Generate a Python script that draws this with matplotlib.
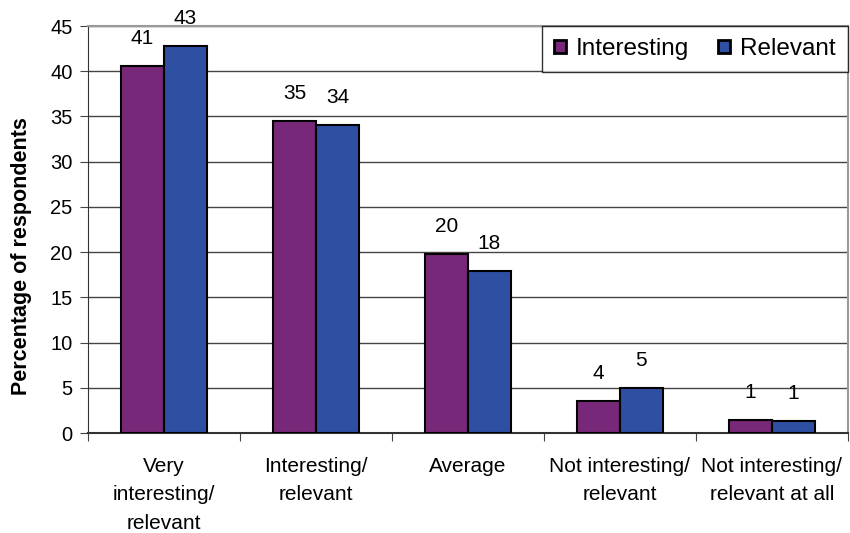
import matplotlib.pyplot as plt
import numpy as np

plt.rcParams['font.family'] = ['Liberation Sans', 'DejaVu Sans']

categories = ['Very\ninteresting/\nrelevant', 'Interesting/\nrelevant', 'Average',
              'Not interesting/\nrelevant', 'Not interesting/\nrelevant at all']
interesting = [40.6, 34.5, 19.8, 3.5, 1.4]
relevant = [42.8, 34.0, 17.9, 5.0, 1.3]
series_names = ['Interesting', 'Relevant']

purple = '#782878'
blue = '#2f50a2'

fig = plt.figure(figsize=(8.5, 5.33), dpi=100)
ax = fig.add_axes([0.1035, 0.1876, 0.894, 0.7636])

x = np.arange(len(categories))
w = 0.283
b1 = ax.bar(x - w / 2, interesting, width=w, color=purple, edgecolor='black',
            linewidth=1.5, zorder=3, label=series_names[0])
b2 = ax.bar(x + w / 2, relevant, width=w, color=blue, edgecolor='black',
            linewidth=1.5, zorder=3, label=series_names[1])
for bars in (b1, b2):
    ax.bar_label(bars, labels=[str(int(b.get_height() + 0.5)) for b in bars],
                 padding=13, fontsize=15)

ax.set_xlim(-0.5, len(categories) - 0.5)
ax.set_ylim(0, 45)
ax.set_yticks(range(0, 46, 5))
ax.yaxis.grid(True, color='#444444', linewidth=1, zorder=0)
ax.tick_params(axis='y', labelsize=14.5, direction='out', length=6, pad=5, color='#444444')

# category ticks between groups, labels centred under groups
ax.set_xticks(np.arange(-0.5, len(categories), 1.0))
ax.set_xticklabels([])
ax.set_xticks(x, minor=True)
ax.set_xticklabels(categories, minor=True, fontsize=15, linespacing=1.65)
ax.tick_params(axis='x', which='major', direction='out', length=6, color='#444444')
ax.tick_params(axis='x', which='minor', length=0, pad=17)

for s in ('top', 'right'):
    ax.spines[s].set_color('#999999')
    ax.spines[s].set_linewidth(1.5)
ax.spines['left'].set_color('#333333')
ax.spines['bottom'].set_color('#333333')
ax.spines['bottom'].set_linewidth(1.5)

ax.set_ylabel('Percentage of respondents', fontsize=15.5, fontweight='bold')
ax.yaxis.set_label_coords(-0.074, 0.435)

leg = ax.legend(loc='upper right', ncol=2, fontsize=17.5, frameon=True, fancybox=False,
                edgecolor='black', handlelength=0.5, handleheight=0.5,
                handletextpad=0.4, columnspacing=1.2, borderaxespad=0.0,
                borderpad=0.5)
leg.get_frame().set_linewidth(1)
for h in leg.legend_handles:
    h.set_linewidth(2)
leg.set_zorder(5)

plt.savefig('out.png')
